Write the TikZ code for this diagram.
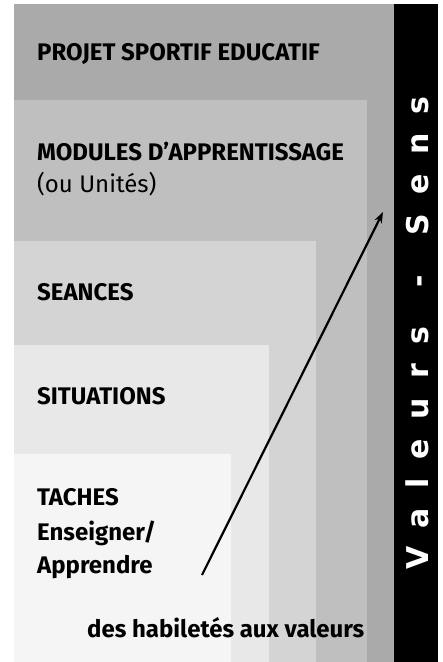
\documentclass[tikz,border=0pt]{standalone}
\usepackage{fontspec}
\setmainfont{Fira Sans}
\newfontfamily\sensfont[LetterSpace=65]{DejaVu Sans}
\usetikzlibrary{positioning}
\usetikzlibrary{arrows.meta}

\definecolor{projetgray}{RGB}{170,170,170}
\definecolor{modulesgray}{RGB}{191,191,191}
\definecolor{seancesgray}{RGB}{212,212,212}
\definecolor{situationsgray}{RGB}{232,232,232}
\definecolor{tachesgray}{RGB}{245,245,245}

\tikzset{
  level/.style={anchor=base west, inner sep=0pt,
    font=\bfseries\fontsize{24}{28}\selectfont},
  sublevel/.style={anchor=base west, inner sep=0pt,
    font=\fontsize{24}{28}\selectfont},
  sensbar/.style={rotate=90, inner sep=0pt, text=white,
    font=\sensfont\bfseries\fontsize{30}{32}\selectfont}
}

\begin{document}
\begin{tikzpicture}[x=1pt,y=-1pt]
  \useasboundingbox (0,0) rectangle (443,662);
  % nested levels
  \fill[projetgray] (14,4) rectangle (394,662);
  \fill[modulesgray] (14,100) rectangle (367,662);
  \fill[seancesgray] (14,241) rectangle (316,662);
  \fill[situationsgray] (14,345) rectangle (269,662);
  \fill[tachesgray] (14,454) rectangle (231,662);
  \fill[black] (394,4) rectangle (438,662);
  % labels
  \node(projet) [level] at (37,60) {PROJET SPORTIF EDUCATIF};
  \node(modules) [level] at (37,160) {MODULES D’APPRENTISSAGE};
  \node(unites) [sublevel] at ([yshift=-32pt]modules.base west) {(ou Unités)};
  \node(seances) [level] at (37,300) {SEANCES};
  \node(situations) [level] at (37,404) {SITUATIONS};
  \node(taches) [level] at (37,505) {TACHES};
  \node(enseigner) [level] at ([yshift=-35pt]taches.base west) {Enseigner/};
  \node(apprendre) [level] at ([yshift=-33pt]enseigner.base west) {Apprendre};
  \node(habiletes) [level] at (87,637) {des habiletés aux valeurs};
  \node(sens) [sensbar] at (417,333) {Valeurs\hspace{1.3em}-\hspace{1.3em}Sens};
  % arrow
  \coordinate(start) at (202,575);
  \coordinate(tip) at (383,212);
  \draw [-{Stealth[length=11pt,width=8pt]}, line width=2.2pt] (start) -- (tip);
\end{tikzpicture}
\end{document}
